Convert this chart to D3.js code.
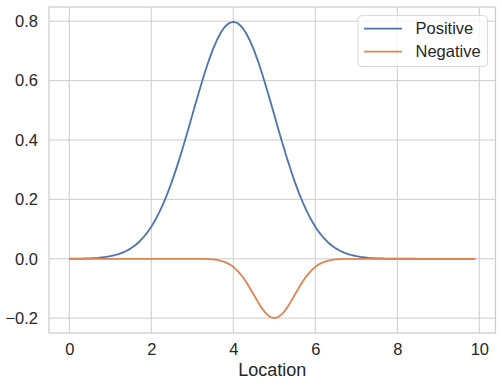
<!DOCTYPE html>
<html><head><meta charset="utf-8">
<script src="https://cdn.jsdelivr.net/npm/d3@7"></script>
<style>body{margin:0;background:#fff}svg{display:block}text{font-family:"Liberation Sans",Arial,sans-serif;fill:#262626}</style>
</head><body><svg id="c" width="502" height="387"></svg>
<script>
const xValues = d3.range(100).map(i => i / 10);
const positive = [
0.0003,0.0004,0.0006,0.0008,0.0012,0.0017,0.0025,0.0034,0.0048,0.0065,
0.0089,0.0119,0.0158,0.0208,0.0271,0.0350,0.0448,0.0566,0.0709,0.0880,
0.1080,0.1312,0.1579,0.1881,0.2218,0.2590,0.2995,0.3428,0.3884,0.4357,
0.4839,0.5322,0.5794,0.6245,0.6665,0.7041,0.7365,0.7628,0.7821,0.7939,
0.7979,0.7939,0.7821,0.7628,0.7365,0.7041,0.6665,0.6245,0.5794,0.5322,
0.4839,0.4357,0.3884,0.3428,0.2995,0.2590,0.2218,0.1881,0.1579,0.1312,
0.1080,0.0880,0.0709,0.0566,0.0448,0.0350,0.0271,0.0208,0.0158,0.0119,
0.0089,0.0065,0.0048,0.0034,0.0025,0.0017,0.0012,0.0008,0.0006,0.0004,
0.0003,0.0002,0.0001,0.0001,0.0001,0,0,0,0,0,
0,0,0,0,0,0,0,0,0,0];
const negative = [
0,0,0,0,0,0,0,0,0,0,
0,0,0,0,0,0,0,0,0,0,
0,0,0,0,0,0,0,0,0,0,
-0.0001,-0.0001,-0.0003,-0.0006,-0.0012,-0.0022,-0.0040,-0.0068,-0.0112,-0.0178,
-0.0271,-0.0396,-0.0556,-0.0751,-0.0974,-0.1213,-0.1452,-0.1671,-0.1846,-0.1960,
-0.2000,-0.1960,-0.1846,-0.1671,-0.1452,-0.1213,-0.0974,-0.0751,-0.0556,-0.0396,
-0.0271,-0.0178,-0.0112,-0.0068,-0.0040,-0.0022,-0.0012,-0.0006,-0.0003,-0.0001,
-0.0001,0,0,0,0,0,0,0,0,0,
0,0,0,0,0,0,0,0,0,0,
0,0,0,0,0,0,0,0,0,0];
const seriesNames = ["Positive", "Negative"];
const seriesColors = ["#4c72b0", "#dd8452"];
const xTicks = [0, 2, 4, 6, 8, 10];
const yTicks = [-0.2, 0.0, 0.2, 0.4, 0.6, 0.8];
const xLabel = "Location";

const svg = d3.select("#c");
const L = 49, R = 495.5, T = 7, B = 333;
const x = d3.scaleLinear().domain([-0.495, 10.395]).range([L, R]);
const y = d3.scaleLinear().domain([-0.2499, 0.8478]).range([B, T]);
const fs = 16.5;

// grid
svg.append("g").selectAll("line").data(xTicks).join("line")
  .attr("x1", d => x(d)).attr("x2", d => x(d)).attr("y1", T).attr("y2", B)
  .attr("stroke", "#cccccc").attr("stroke-width", 1);
svg.append("g").selectAll("line").data(yTicks).join("line")
  .attr("x1", L).attr("x2", R).attr("y1", d => y(d)).attr("y2", d => y(d))
  .attr("stroke", "#cccccc").attr("stroke-width", 1);

// axes (labels only)
const xAxis = svg.append("g").attr("transform", `translate(0,${B})`)
  .call(d3.axisBottom(x).tickValues(xTicks).tickSize(0).tickPadding(10).tickFormat(d3.format("d")));
const yAxis = svg.append("g").attr("transform", `translate(${L},0)`)
  .call(d3.axisLeft(y).tickValues(yTicks).tickSize(0).tickPadding(11)
    .tickFormat(d => d3.format(".1f")(d).replace("-", "\u2212")));
[xAxis, yAxis].forEach(g => {
  g.select(".domain").remove();
  g.selectAll("text").style("font-size", fs + "px").attr("fill", "#262626")
    .style("font-family", '"Liberation Sans",Arial,sans-serif');
});

// lines
const data = [positive, negative];
const line = d3.line().x((d, i) => x(xValues[i])).y(d => y(d));
data.forEach((s, k) => {
  svg.append("path").datum(s).attr("d", line).attr("fill", "none")
    .attr("stroke", seriesColors[k]).attr("stroke-width", 1.8).attr("stroke-linejoin", "round");
});

// frame
svg.append("rect").attr("x", L).attr("y", T).attr("width", R - L).attr("height", B - T)
  .attr("fill", "none").attr("stroke", "#cccccc").attr("stroke-width", 1.25);

// x label
svg.append("text").attr("x", (L + R) / 2).attr("y", 376).attr("text-anchor", "middle")
  .style("font-size", "18px").text(xLabel);

// legend
const lg = svg.append("g");
lg.append("rect").attr("x", 358).attr("y", 15.5).attr("width", 129.5).attr("height", 51)
  .attr("rx", 4).attr("fill", "rgba(255,255,255,0.8)").attr("stroke", "#d8d8d8").attr("stroke-width", 1);
seriesNames.forEach((n, k) => {
  const cy = 28.7 + k * 23;
  lg.append("line").attr("x1", 364).attr("x2", 402).attr("y1", cy).attr("y2", cy)
    .attr("stroke", seriesColors[k]).attr("stroke-width", 1.8);
  lg.append("text").attr("x", 415.5).attr("y", cy).attr("dy", "0.35em")
    .style("font-size", fs + "px").text(n);
});
</script></body></html>
